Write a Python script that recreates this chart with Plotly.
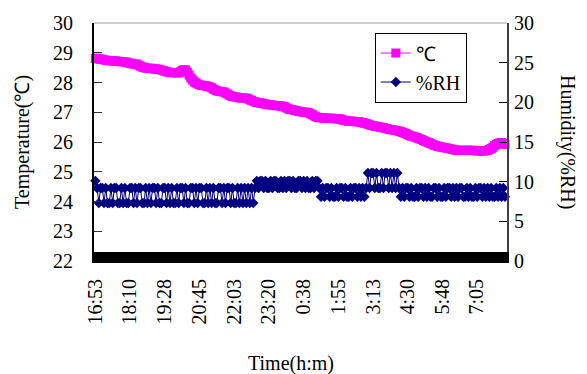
import plotly.graph_objects as go

# ---- data ----
START_LABEL = "16:53"
SAMPLE_MIN = 3.875  # sampling interval of the readings (minutes)

tick_labels = ["16:53", "18:10", "19:28", "20:45", "22:03", "23:20",
               "0:38", "1:55", "3:13", "4:30", "5:48", "7:05"]

temperature = [
    28.80, 28.82, 28.80, 28.78, 28.78, 28.76, 28.75, 28.74, 28.73, 28.73,
    28.73, 28.72, 28.73, 28.71, 28.70, 28.70, 28.70, 28.69, 28.68, 28.66,
    28.65, 28.63, 28.62, 28.62, 28.62, 28.58, 28.55, 28.52, 28.50, 28.49,
    28.48, 28.48, 28.48, 28.47, 28.45, 28.45, 28.45, 28.44, 28.42, 28.40,
    28.38, 28.36, 28.35, 28.34, 28.33, 28.33, 28.33, 28.32, 28.33, 28.36,
    28.40, 28.43, 28.42, 28.35, 28.25, 28.15, 28.08, 28.02, 27.98, 27.95,
    27.92, 27.91, 27.90, 27.89, 27.88, 27.87, 27.85, 27.82, 27.78, 27.75,
    27.72, 27.71, 27.70, 27.69, 27.68, 27.65, 27.62, 27.58, 27.55, 27.53,
    27.52, 27.51, 27.50, 27.49, 27.48, 27.48, 27.48, 27.47, 27.45, 27.42,
    27.40, 27.37, 27.35, 27.33, 27.32, 27.31, 27.30, 27.29, 27.28, 27.26,
    27.25, 27.25, 27.24, 27.23, 27.22, 27.22, 27.22, 27.21, 27.20, 27.18,
    27.15, 27.12, 27.10, 27.09, 27.08, 27.06, 27.05, 27.03, 27.02, 27.01,
    27.00, 27.00, 27.00, 26.98, 26.95, 26.92, 26.88, 26.85, 26.83, 26.82,
    26.82, 26.81, 26.80, 26.80, 26.80, 26.80, 26.80, 26.79, 26.78, 26.78,
    26.78, 26.77, 26.75, 26.73, 26.72, 26.71, 26.70, 26.70, 26.70, 26.69,
    26.68, 26.68, 26.68, 26.66, 26.65, 26.63, 26.62, 26.60, 26.58, 26.56,
    26.55, 26.53, 26.52, 26.51, 26.50, 26.49, 26.48, 26.46, 26.45, 26.43,
    26.42, 26.41, 26.40, 26.39, 26.38, 26.36, 26.35, 26.32, 26.30, 26.28,
    26.25, 26.22, 26.20, 26.18, 26.17, 26.15, 26.12, 26.10, 26.08, 26.05,
    26.02, 26.00, 25.98, 25.95, 25.93, 25.90, 25.88, 25.86, 25.85, 25.83,
    25.82, 25.81, 25.80, 25.79, 25.78, 25.76, 25.75, 25.73, 25.72, 25.72,
    25.72, 25.72, 25.72, 25.72, 25.72, 25.72, 25.72, 25.72, 25.72, 25.71,
    25.70, 25.70, 25.70, 25.70, 25.70, 25.71, 25.72, 25.75, 25.78, 25.82,
    25.88, 25.92, 25.95, 25.97, 25.98, 25.95, 25.92,
]

humidity = [
    # 16:53 - ~22:45
    10.1, 9.2, 7.3, 9.2, 9.2, 7.3, 9.2, 7.3, 7.3, 9.2,
    7.3, 9.2, 9.2, 7.3, 7.3, 9.2, 7.3, 9.2, 7.3, 7.3,
    9.2, 9.2, 7.3, 9.2, 7.3, 9.2, 9.2, 7.3, 7.3, 9.2,
    7.3, 9.2, 7.3, 9.2, 9.2, 7.3, 9.2, 7.3, 7.3, 9.2,
    9.2, 7.3, 9.2, 7.3, 9.2, 7.3, 7.3, 9.2, 7.3, 9.2,
    9.2, 7.3, 9.2, 7.3, 7.3, 9.2, 9.2, 7.3, 9.2, 7.3,
    9.2, 9.2, 7.3, 7.3, 9.2, 7.3, 9.2, 7.3, 9.2, 7.3,
    7.3, 9.2, 9.2, 7.3, 9.2, 7.3, 9.2, 9.2, 7.3, 9.2,
    7.3, 7.3, 9.2, 7.3, 9.2, 7.3, 9.2, 7.3, 9.2, 7.3,
    9.2, 7.3,
    # ~22:50 - ~1:20
    9.2, 10.1, 9.2, 10.1, 10.1, 9.2, 10.1, 9.2, 9.2, 10.1,
    9.2, 10.1, 10.1, 9.2, 9.2, 10.1, 9.2, 10.1, 9.2, 10.1,
    10.1, 9.2, 10.1, 9.2, 9.2, 10.1, 10.1, 9.2, 10.1, 9.2,
    10.1, 9.2, 9.2, 10.1, 9.2, 10.1, 10.1, 9.2,
    # ~1:20 - ~3:05
    8.1, 9.2, 8.1, 9.2, 9.2, 8.1, 9.2, 8.1, 8.1, 9.2,
    8.1, 9.2, 9.2, 8.1, 9.2, 8.1, 8.1, 9.2, 8.1, 9.2,
    9.2, 8.1, 9.2, 8.1, 9.2, 8.1, 9.2,
    # ~3:05 - ~4:15
    11.1, 9.2, 11.1, 11.1, 9.2, 11.1, 9.2, 9.2, 11.1, 9.2,
    11.1, 11.1, 9.2, 11.1, 9.2, 11.1, 9.2, 11.1, 9.2,
    # ~4:15 - end
    8.1, 9.2, 8.1, 9.2, 9.2, 8.1, 9.2, 8.1, 8.1, 9.2,
    8.1, 9.2, 9.2, 8.1, 9.2, 8.1, 9.2, 8.1, 8.1, 9.2,
    9.2, 8.1, 9.2, 8.1, 8.1, 9.2, 8.1, 9.2, 9.2, 8.1,
    9.2, 8.1, 9.2, 8.1, 9.2, 9.2, 8.1, 8.1, 9.2, 8.1,
    9.2, 8.1, 8.1, 9.2, 8.1, 9.2, 9.2, 8.1, 9.2, 8.1,
    9.2, 8.1, 9.2, 8.1, 8.1, 9.2, 8.1, 9.2, 8.1, 9.2,
    8.1,
]


def to_min(lbl):
    h, m = lbl.split(":")
    sh, sm = START_LABEL.split(":")
    return ((int(h) * 60 + int(m)) - (int(sh) * 60 + int(sm))) % 1440


n = min(len(temperature), len(humidity))
times = [i * SAMPLE_MIN for i in range(n)]
tick_pos = [to_min(t) for t in tick_labels]

FONT = '"Liberation Serif", "Times New Roman", serif'

fig = go.Figure()
fig.add_trace(go.Scatter(
    x=times, y=temperature[:n], name="℃", mode="lines+markers",
    line=dict(color="#FF00FF", width=1),
    marker=dict(symbol="square", size=9, color="#FF00FF"),
    cliponaxis=False,
))
fig.add_trace(go.Scatter(
    x=times, y=humidity[:n], name="%RH", mode="lines+markers", yaxis="y2",
    line=dict(color="#000080", width=1),
    marker=dict(symbol="diamond", size=8, color="#000080"),
    cliponaxis=False,
))

fig.update_layout(
    width=587, height=374,
    margin=dict(l=94, r=80, t=18, b=113),
    paper_bgcolor="white", plot_bgcolor="white",
    font=dict(family=FONT, size=20, color="black"),
    showlegend=True,
    legend=dict(
        x=0.68, y=0.96, xanchor="left", yanchor="top",
        bordercolor="black", borderwidth=1, bgcolor="white",
        font=dict(family=FONT, size=20, color="black"),
        itemwidth=30,
    ),
    xaxis=dict(
        range=[-3, 919], tickmode="array", tickvals=tick_pos, ticktext=tick_labels,
        tickangle=-90, showgrid=False, zeroline=False,
        showline=True, linecolor="black", linewidth=2,
        ticks="inside", ticklen=9, tickcolor="black", tickwidth=1,
        ticklabelstandoff=8,
        minor=dict(tickmode="linear", tick0=0, dtick=2.58, ticks="inside",
                   ticklen=9, tickcolor="black", tickwidth=7, showgrid=False),
        tickfont=dict(family=FONT, size=20),
    ),
    yaxis=dict(
        range=[22, 30], dtick=1, showgrid=False, zeroline=False,
        showline=True, linecolor="black", linewidth=2,
        ticks="inside", ticklen=8, tickcolor="#333333", tickwidth=1,
        ticklabelstandoff=15,
        tickfont=dict(family=FONT, size=20),
    ),
    yaxis2=dict(
        range=[0, 30], dtick=5, overlaying="y", side="right",
        showgrid=False, zeroline=False,
        showline=True, linecolor="#404040", linewidth=2,
        ticks="inside", ticklen=8, tickcolor="black", tickwidth=1,
        ticklabelstandoff=1,
        tickfont=dict(family=FONT, size=20),
    ),
    shapes=[dict(type="line", xref="paper", yref="paper", x0=0, x1=1, y0=1, y1=1,
                 line=dict(color="#A0A0A0", width=1))],
    annotations=[
        dict(text="Temperature(℃)", xref="paper", yref="paper", x=0, y=0.5,
             xshift=-72, textangle=-90, showarrow=False,
             xanchor="center", yanchor="middle", font=dict(family=FONT, size=20)),
        dict(text="Humidity(%RH)", xref="paper", yref="paper", x=1, y=0.5,
             xshift=61, textangle=90, showarrow=False,
             xanchor="center", yanchor="middle", font=dict(family=FONT, size=20)),
        dict(text="Time(h:m)", xref="paper", yref="paper", x=0.477, y=0,
             yshift=-102, showarrow=False,
             xanchor="center", yanchor="middle", font=dict(family=FONT, size=20)),
    ],
)

fig.write_html("out.html", config={"displayModeBar": False},
               post_script="document.body.style.margin='0';")
